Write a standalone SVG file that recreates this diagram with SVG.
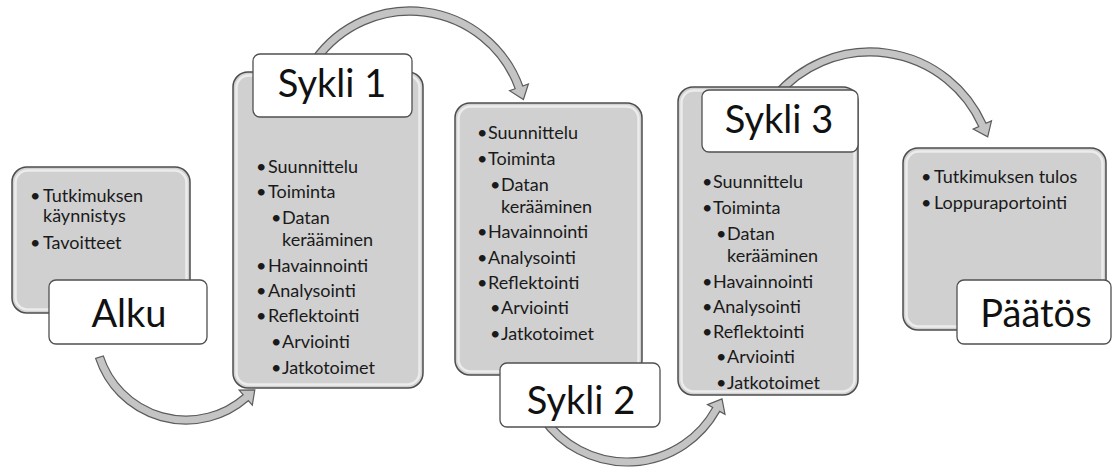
<svg xmlns="http://www.w3.org/2000/svg" width="1113" height="468" viewBox="0 0 1113 468">
  <defs>
    <style>
      .panel { fill: #d0d0d0; stroke: #4d4d4d; stroke-width: 1.5; }
      .sheen { fill: none; stroke: #ffffff; stroke-opacity: 0.6; stroke-width: 2.5; }
      .label { fill: #ffffff; stroke: #505050; stroke-width: 1.3; }
      .title { font-family: Lato, "Liberation Sans", sans-serif; font-size: 38px; fill: #111111; text-anchor: middle; }
      .item { font-family: Lato, "Liberation Sans", sans-serif; font-size: 18px; fill: #1a1a1a; }
      .arrow { fill: #c4c4c4; stroke: #5c5c5c; stroke-width: 1.2; stroke-linejoin: miter; }
    </style>
  </defs>

  <rect width="1113" height="468" fill="#ffffff"/>

  <!-- curved arrows between the stages -->
  <g id="connectors">
    <path class="arrow" d="M95.6,358.4 A95,95 0 0 0 248.3,400.7 L252.3,405.2 L254.8,389.8 L239.1,390.1 L243.1,394.7 A87,87 0 0 1 103.3,355.9 Z"/>
    <path class="arrow" d="M311.7,58.2 A120,120 0 0 1 522.8,86.0 L528.4,83.9 L523.4,99.5 L509.6,90.7 L515.2,88.7 A112,112 0 0 0 318.3,62.8 Z"/>
    <path class="arrow" d="M540.2,420.8 A106,106 0 0 0 719.7,411.4 L725.0,414.3 L722.0,398.9 L707.5,404.6 L712.7,407.5 A98,98 0 0 1 546.7,416.2 Z"/>
    <path class="arrow" d="M772.7,93.4 A127,127 0 0 1 986.0,123.3 L991.5,120.9 L987.7,136.9 L973.2,129.0 L978.7,126.6 A119,119 0 0 0 778.8,98.5 Z"/>
  </g>

  <!-- Alku -->
  <g id="alku">
    <rect class="panel" x="12" y="167" width="178" height="146" rx="15"/>
    <rect class="sheen" x="15.5" y="170.5" width="171" height="139" rx="12"/>
    <text class="item"><tspan x="30" y="202">•</tspan><tspan x="43" y="202">Tutkimuksen</tspan></text>
    <text class="item" x="43" y="222">käynnistys</text>
    <text class="item"><tspan x="30" y="249">•</tspan><tspan x="43" y="249">Tavoitteet</tspan></text>
    <rect class="label" x="49" y="280" width="158" height="64" rx="7"/>
    <text class="title" x="129" y="327">Alku</text>
  </g>

  <!-- Sykli 1 -->
  <g id="sykli1">
    <rect class="panel" x="233" y="72" width="190" height="316" rx="15"/>
    <rect class="sheen" x="236.5" y="75.5" width="183" height="309" rx="12"/>
    <text class="item"><tspan x="256" y="173">•</tspan><tspan x="268" y="173">Suunnittelu</tspan></text>
    <text class="item"><tspan x="256" y="198">•</tspan><tspan x="268" y="198">Toiminta</tspan></text>
    <text class="item"><tspan x="271" y="224">•</tspan><tspan x="282" y="224">Datan</tspan></text>
    <text class="item" x="282" y="246">kerääminen</text>
    <text class="item"><tspan x="256" y="272">•</tspan><tspan x="268" y="272">Havainnointi</tspan></text>
    <text class="item"><tspan x="256" y="297">•</tspan><tspan x="268" y="297">Analysointi</tspan></text>
    <text class="item"><tspan x="256" y="322">•</tspan><tspan x="268" y="322">Reflektointi</tspan></text>
    <text class="item"><tspan x="271" y="348">•</tspan><tspan x="282" y="348">Arviointi</tspan></text>
    <text class="item"><tspan x="271" y="374">•</tspan><tspan x="282" y="374">Jatkotoimet</tspan></text>
    <rect class="label" x="253" y="54" width="159" height="63" rx="7"/>
    <text class="title" x="332" y="97">Sykli 1</text>
  </g>

  <!-- Sykli 2 -->
  <g id="sykli2">
    <rect class="panel" x="455" y="103" width="187" height="272" rx="15"/>
    <rect class="sheen" x="458.5" y="106.5" width="180" height="265" rx="12"/>
    <text class="item"><tspan x="477" y="139">•</tspan><tspan x="488" y="139">Suunnittelu</tspan></text>
    <text class="item"><tspan x="477" y="165">•</tspan><tspan x="488" y="165">Toiminta</tspan></text>
    <text class="item"><tspan x="490" y="191">•</tspan><tspan x="501" y="191">Datan</tspan></text>
    <text class="item" x="501" y="213">kerääminen</text>
    <text class="item"><tspan x="477" y="238">•</tspan><tspan x="488" y="238">Havainnointi</tspan></text>
    <text class="item"><tspan x="477" y="264">•</tspan><tspan x="488" y="264">Analysointi</tspan></text>
    <text class="item"><tspan x="477" y="289">•</tspan><tspan x="488" y="289">Reflektointi</tspan></text>
    <text class="item"><tspan x="490" y="314">•</tspan><tspan x="501" y="314">Arviointi</tspan></text>
    <text class="item"><tspan x="490" y="340">•</tspan><tspan x="501" y="340">Jatkotoimet</tspan></text>
    <rect class="label" x="500" y="363" width="160" height="64" rx="7"/>
    <text class="title" x="581" y="414">Sykli 2</text>
  </g>

  <!-- Sykli 3 -->
  <g id="sykli3">
    <rect class="panel" x="678" y="87" width="180" height="308" rx="15"/>
    <rect class="sheen" x="681.5" y="90.5" width="173" height="301" rx="12"/>
    <text class="item"><tspan x="702" y="188">•</tspan><tspan x="713" y="188">Suunnittelu</tspan></text>
    <text class="item"><tspan x="702" y="214">•</tspan><tspan x="713" y="214">Toiminta</tspan></text>
    <text class="item"><tspan x="716" y="240">•</tspan><tspan x="727" y="240">Datan</tspan></text>
    <text class="item" x="727" y="262">kerääminen</text>
    <text class="item"><tspan x="702" y="288">•</tspan><tspan x="713" y="288">Havainnointi</tspan></text>
    <text class="item"><tspan x="702" y="313">•</tspan><tspan x="713" y="313">Analysointi</tspan></text>
    <text class="item"><tspan x="702" y="338">•</tspan><tspan x="713" y="338">Reflektointi</tspan></text>
    <text class="item"><tspan x="716" y="363">•</tspan><tspan x="727" y="363">Arviointi</tspan></text>
    <text class="item"><tspan x="716" y="389">•</tspan><tspan x="727" y="389">Jatkotoimet</tspan></text>
    <rect class="label" x="702" y="90" width="156" height="62" rx="7"/>
    <text class="title" x="779" y="133">Sykli 3</text>
  </g>

  <!-- Päätös -->
  <g id="paatos">
    <rect class="panel" x="903" y="148" width="203" height="182" rx="15"/>
    <rect class="sheen" x="906.5" y="151.5" width="196" height="175" rx="12"/>
    <text class="item"><tspan x="921" y="183">•</tspan><tspan x="934" y="183">Tutkimuksen tulos</tspan></text>
    <text class="item"><tspan x="921" y="209">•</tspan><tspan x="934" y="209">Loppuraportointi</tspan></text>
    <rect class="label" x="957" y="280" width="154" height="64" rx="7"/>
    <text class="title" x="1036" y="327">Päätös</text>
  </g>
</svg>
